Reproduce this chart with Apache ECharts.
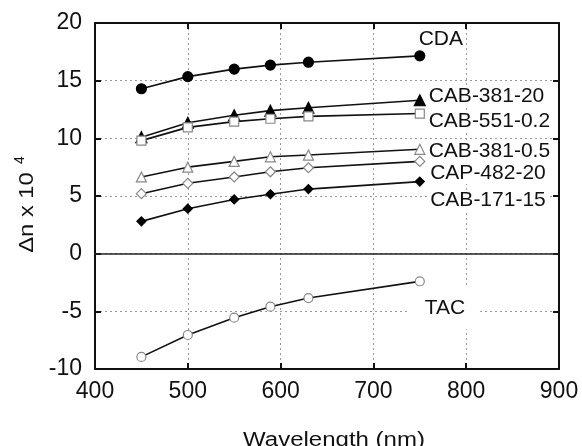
<!DOCTYPE html>
<html>
<head>
<meta charset="utf-8">
<script src="https://cdn.jsdelivr.net/npm/echarts@6/dist/echarts.min.js"></script>
<style>
html,body{margin:0;padding:0;background:#fff;}
#chart{width:582px;height:446px;}
</style>
</head>
<body>
<div id="chart"></div>
<script>
var wavelengths = [450, 500, 550, 589, 630, 750];
var seriesNames = ['CDA', 'CAB-381-20', 'CAB-551-0.2', 'CAB-381-0.5', 'CAP-482-20', 'CAB-171-15', 'TAC'];
var cda        = [14.3, 15.35, 16.0, 16.35, 16.6, 17.15];
var cab381_20  = [10.1, 11.35, 12.0, 12.4, 12.65, 13.3];
var cab551_02  = [9.8, 10.95, 11.45, 11.7, 11.9, 12.15];
var cab381_05  = [6.65, 7.5, 8.0, 8.4, 8.55, 9.05];
var cap482_20  = [5.2, 6.1, 6.65, 7.1, 7.45, 8.0];
var cab171_15  = [2.8, 3.9, 4.7, 5.15, 5.6, 6.25];
var tac        = [-8.95, -7.05, -5.55, -4.6, -3.85, -2.4];
var xTicks = [400, 500, 600, 700, 800, 900];
var yTicks = [-10, -5, 0, 5, 10, 15, 20];

var values = [cda, cab381_20, cab551_02, cab381_05, cap482_20, cab171_15, tac];

var styles = [
  {symbol: 'circle', size: 10, fill: '#000', border: '#000', ox: -8.7, oy: -16.7, pad: [0, 2]},
  {symbol: 'triangle', size: 11, fill: '#000', border: '#000', ox: 0.8, oy: -3.7, pad: [0, 2]},
  {symbol: 'rect', size: 9, fill: '#fff', border: '#888', ox: 1.8, oy: 7.2, pad: [0, 2]},
  {symbol: 'triangle', size: 10, fill: '#fff', border: '#888', ox: 1.3, oy: 1.8, pad: [0, 2]},
  {symbol: 'diamond', size: 10, fill: '#fff', border: '#888', ox: 2.8, oy: 12, pad: [0, 2]},
  {symbol: 'diamond', size: 9, fill: '#000', border: '#000', ox: 3.3, oy: 18.7, pad: [0, 2]},
  {symbol: 'circle', size: 9, fill: '#fff', border: '#888', ox: -15.2, oy: 26.5, pad: [11, 15]}
];

var FONT = 'Liberation Sans, Arial, sans-serif';

var series = values.map(function (vals, i) {
  var st = styles[i];
  var data = vals.map(function (v, j) {
    var d = {value: [wavelengths[j], v]};
    if (j === vals.length - 1) {
      d.label = {
        show: true,
        formatter: seriesNames[i],
        position: 'right',
        distance: 0,
        offset: [st.ox, st.oy],
        fontSize: 21,
        fontFamily: FONT,
        color: '#111',
        backgroundColor: '#fff',
        padding: st.pad
      };
    }
    return d;
  });
  var s = {
    name: seriesNames[i],
    type: 'line',
    data: data,
    symbol: st.symbol,
    symbolSize: st.size,
    showAllSymbol: true,
    lineStyle: {color: '#111', width: 1.6},
    itemStyle: {color: st.fill, borderColor: st.border, borderWidth: 1.2},
    label: {show: false},
    emphasis: {disabled: true},
    animation: false,
    z: 3
  };
  if (i === 0) {
    s.markLine = {
      silent: true,
      symbol: 'none',
      label: {show: false},
      lineStyle: {color: '#222', width: 1.5, type: 'solid'},
      data: [{yAxis: 0}],
      animation: false
    };
  }
  return s;
});

var axisLineStyle = {show: true, onZero: false, lineStyle: {color: '#111', width: 2}};
var tickStyle = {show: true, inside: true, length: 6, lineStyle: {color: '#111', width: 2}};
var gridStyle = {show: true, lineStyle: {color: '#999', width: 1, type: [2, 3]}};

var chart = echarts.init(document.getElementById('chart'), null, {renderer: 'canvas'});
chart.setOption({
  animation: false,
  backgroundColor: '#fff',
  grid: {left: 95, right: 23, top: 23, bottom: 77, containLabel: false},
  xAxis: [
    {type: 'value', min: xTicks[0], max: xTicks[xTicks.length - 1], interval: 100, position: 'bottom',
     axisLine: axisLineStyle, axisTick: tickStyle, splitLine: gridStyle,
     axisLabel: {fontSize: 23, fontFamily: FONT, color: '#111', margin: 11}},
    {type: 'value', min: xTicks[0], max: xTicks[xTicks.length - 1], interval: 100, position: 'top',
     axisLine: axisLineStyle, axisTick: tickStyle, splitLine: {show: false}, axisLabel: {show: false}}
  ],
  yAxis: [
    {type: 'value', min: yTicks[0], max: yTicks[yTicks.length - 1], interval: 5, position: 'left',
     axisLine: axisLineStyle, axisTick: tickStyle, splitLine: gridStyle,
     axisLabel: {fontSize: 23, fontFamily: FONT, color: '#111', margin: 13}},
    {type: 'value', min: yTicks[0], max: yTicks[yTicks.length - 1], interval: 5, position: 'right',
     axisLine: axisLineStyle, axisTick: tickStyle, splitLine: {show: false}, axisLabel: {show: false}}
  ],
  graphic: [
    {type: 'text', x: 334, y: 440, scaleX: 1.2, z: 10,
     style: {text: 'Wavelength (nm)', fontSize: 20, fontFamily: FONT, fill: '#111', textAlign: 'center', textVerticalAlign: 'middle'}},
    {type: 'text', x: 27, y: 212.5, rotation: Math.PI / 2, scaleX: 1.13, z: 10,
     style: {text: '\u0394n x 10', fontSize: 21, fontFamily: FONT, fill: '#111', textAlign: 'center', textVerticalAlign: 'middle'}},
    {type: 'text', x: 20, y: 160, rotation: Math.PI / 2, z: 10,
     style: {text: '4', fontSize: 14, fontFamily: FONT, fill: '#111', textAlign: 'center', textVerticalAlign: 'middle'}}
  ],
  series: series
});
</script>
</body>
</html>
